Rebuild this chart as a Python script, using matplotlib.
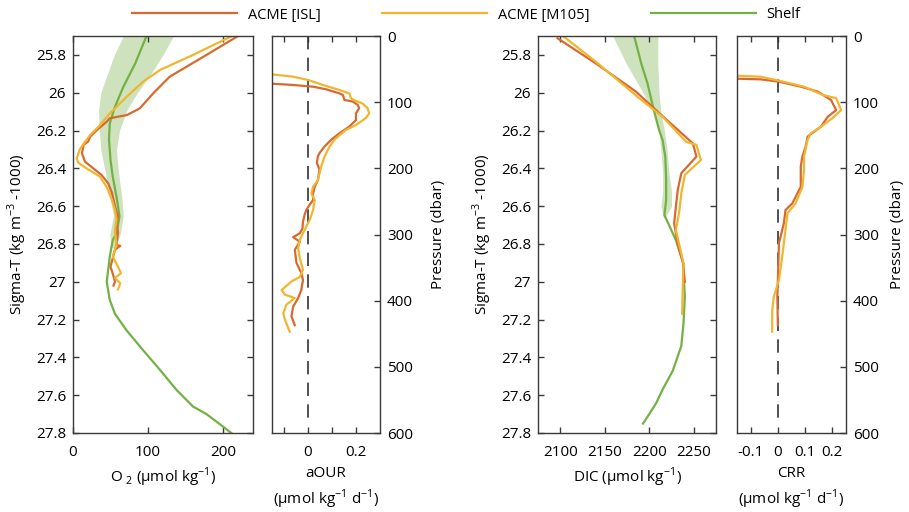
import matplotlib
matplotlib.use("Agg")
import matplotlib.pyplot as plt
import numpy as np

plt.rcParams['font.family'] = ['Open Sans', 'DejaVu Sans']
plt.rcParams['font.size'] = 11
plt.rcParams['mathtext.fontset'] = 'custom'
plt.rcParams['mathtext.rm'] = 'Open Sans'

c_isl = '#d8692f'
c_m105 = '#f1b530'
c_shelf = '#74b144'

# --- O2 vs sigma-T ---
o2_isl = [220, 178, 129, 107, 89, 72, 49, 45, 32, 23, 20, 14, 12, 16, 27, 38, 47, 52, 56, 60, 58, 60,
          58, 63, 56, 52, 50, 54, 56, 54]
sig_o2_isl = [25.70, 25.80, 25.915, 26.003, 26.083, 26.118, 26.135, 26.153, 26.197, 26.232, 26.259, 26.276,
              26.32, 26.365, 26.40, 26.435, 26.48, 26.53, 26.60, 26.655, 26.69, 26.74,
              26.805, 26.81, 26.83, 26.89, 26.92, 26.97, 26.999, 27.02]
o2_m105 = [212, 160, 116, 94, 72, 49, 34, 23, 16, 9, 5, 7, 18, 36, 45, 52, 56, 58, 56,
           56, 58, 53, 60, 64, 56, 63, 60]
sig_o2_m105 = [25.70, 25.80, 25.88, 25.94, 26.02, 26.11, 26.18, 26.223, 26.26, 26.30, 26.347, 26.37,
               26.40, 26.444, 26.50, 26.567, 26.62, 26.67, 26.726,
               26.744, 26.80, 26.867, 26.92, 26.955, 26.98, 27.008, 27.04]
o2_shelf = [98, 83, 67, 56, 49, 48, 50, 53, 58, 62, 58, 53, 49, 45, 49, 56, 71, 93, 116, 138,
            160, 178, 200, 211]
sig_o2_shelf = [25.70, 25.845, 25.97, 26.074, 26.162, 26.25, 26.356, 26.444, 26.55, 26.655, 26.744,
                26.779, 26.867, 27.0, 27.096, 27.17, 27.255, 27.36, 27.466, 27.572,
                27.66, 27.70, 27.766, 27.80]
sig_o2_band = [25.70, 25.80, 25.90, 26.00, 26.09, 26.20, 26.30, 26.40, 26.55, 26.65, 26.75, 26.82]
o2_band_lo = [67, 55, 46, 37, 34, 35, 37, 42, 49, 54, 49, 52]
o2_band_hi = [134, 120, 104, 86, 72, 62, 58, 60, 65, 67, 63, 56]

# --- aOUR vs pressure ---
aour_isl = [-0.2, -0.062, 0.021, 0.076, 0.131, 0.145, 0.152, 0.186, 0.207, 0.213, 0.2, 0.2, 0.172,
            0.131, 0.096, 0.069, 0.048, 0.041, 0.037, 0.048, 0.041, 0.028, 0.021, 0.021, 0.007,
            -0.007, -0.014, -0.021, -0.023, -0.034, -0.062, -0.034, -0.055, -0.048, -0.028,
            -0.021, -0.028, -0.041, -0.062, -0.069, -0.055]
p_aour_isl = [71, 74, 76.6, 80.6, 86.7, 89, 96.7, 99, 104, 109, 117, 127, 137,
              147, 157, 167, 177, 182, 192, 202, 218, 228, 238, 248, 255,
              263, 270, 281, 291, 298, 304, 311, 323, 343, 358,
              369, 384, 396, 409, 424, 437]
aour_m105 = [-0.2, -0.062, 0.0, 0.062, 0.131, 0.172, 0.179, 0.193, 0.227, 0.248, 0.255, 0.241, 0.2,
             0.158, 0.131, 0.110, 0.090, 0.069, 0.055, 0.048, 0.041, 0.021, 0.014, 0.028, 0.021,
             0.007, -0.014, -0.034, -0.041, -0.034, -0.021, -0.034, -0.069, -0.110, -0.096,
             -0.055, -0.090, -0.103, -0.096, -0.076]
p_aour_m105 = [56, 61.5, 66.5, 74, 81.6, 86.7, 94, 97, 102, 109, 117, 124, 134.5,
               142, 150, 157, 167, 182, 197, 207.5, 218, 228, 238, 248, 263,
               278, 293, 308, 321, 336, 353, 364, 371, 384, 391,
               396, 406, 419, 429, 447]

# --- DIC vs sigma-T ---
dic_isl = [2097, 2140, 2185, 2211.5, 2249, 2253, 2236, 2232, 2230, 2228, 2232, 2238, 2240]
sig_dic_isl = [25.712, 25.845, 25.994, 26.109, 26.268, 26.338, 26.426, 26.515, 26.60, 26.69,
               26.80, 26.90, 27.0]
dic_m105 = [2103, 2140, 2189, 2215, 2241.5, 2253, 2258, 2240, 2236, 2234, 2230, 2234, 2238.5, 2238, 2237]
sig_dic_m105 = [25.70, 25.836, 26.03, 26.127, 26.26, 26.276, 26.356, 26.435, 26.532, 26.62,
                26.726, 26.81, 26.902, 26.95, 27.17]
dic_shelf = [2183, 2191, 2198, 2204, 2211, 2215, 2218, 2219, 2219, 2217, 2230, 2238, 2240,
             2238.5, 2236, 2226.5, 2215, 2208, 2200, 2193]
sig_dic_shelf = [25.70, 25.845, 25.95, 26.07, 26.197, 26.25, 26.338, 26.46, 26.567, 26.647, 26.78,
                 26.90, 27.08, 27.22, 27.34, 27.47, 27.57, 27.64, 27.70, 27.75]
sig_dic_band = [25.70, 25.845, 26.00, 26.10, 26.20, 26.30, 26.42, 26.52, 26.60, 26.66]
dic_band_lo = [2159, 2174, 2193, 2204, 2211, 2213, 2215, 2215, 2213, 2216]
dic_band_hi = [2209.6, 2209.6, 2211, 2213, 2217, 2220, 2222, 2225, 2225, 2218]

# --- CRR vs pressure ---
crr_isl = [-0.2, -0.064, 0.004, 0.084, 0.146, 0.195, 0.214, 0.183, 0.158, 0.109, 0.102, 0.09,
           0.084, 0.084, 0.084, 0.053, 0.028, 0.022, 0.01, 0.004, 0.0, -0.002, 0.0]
p_crr_isl = [64, 65.5, 69, 76.6, 84, 96.7, 112, 122, 137, 152, 167, 182,
             197.5, 212.6, 228, 253, 263, 283, 303, 313, 369, 394, 437]
crr_m105 = [-0.2, -0.064, 0.004, 0.096, 0.164, 0.214, 0.232, 0.201, 0.158, 0.121, 0.109, 0.096,
            0.096, 0.09, 0.065, 0.035, 0.028, 0.016, 0.004, -0.015, -0.021, -0.021]
p_crr_m105 = [59, 61.5, 67.5, 76.6, 89, 94, 112, 124, 137, 147, 157, 182,
              202.5, 228, 253, 268, 293, 333, 369, 394, 416, 447]

W, H = 909, 512
fig = plt.figure(figsize=(W / 100, H / 100), dpi=100)


def box(x0, x1, y0=36, y1=433):
    return [x0 / W, 1 - y1 / H, (x1 - x0) / W, (y1 - y0) / H]


def style(ax):
    for s in ax.spines.values():
        s.set_color('#3a3a3a')
        s.set_linewidth(1.0)
    ax.tick_params(direction='in', length=4, width=1, color='#3a3a3a', top=True, right=True,
                   labelsize=11, pad=5)
    ax.tick_params(axis='x', pad=9)


lw = 1.6
sig_ticks = np.arange(25.8, 27.81, 0.2)
sig_labels = ['%g' % round(t, 1) for t in sig_ticks]

# panel 1: O2
ax1 = fig.add_axes(box(73, 253))
ax1.fill_betweenx(sig_o2_band, o2_band_lo, o2_band_hi, color=c_shelf, alpha=0.35, lw=0)
ax1.plot(o2_shelf, sig_o2_shelf, color=c_shelf, lw=lw)
ax1.plot(o2_isl, sig_o2_isl, color=c_isl, lw=lw)
ax1.plot(o2_m105, sig_o2_m105, color=c_m105, lw=lw)
ax1.set_xlim(0, 240)
ax1.set_ylim(27.8, 25.7)
ax1.set_xticks([0, 100, 200])
ax1.set_yticks(sig_ticks)
ax1.set_yticklabels(sig_labels)
ax1.set_xlabel('O$_{\\ 2}$ (µmol kg$^{-1}$)', labelpad=4)
ax1.set_ylabel('Sigma-T (kg m$^{-3}$ -1000)', labelpad=5)
style(ax1)

# panel 2: aOUR
ax2 = fig.add_axes(box(272, 380))
ax2.plot([0, 0], [0, 590], color='#333333', lw=1.2, dashes=(8, 5))
ax2.plot(aour_isl, p_aour_isl, color=c_isl, lw=lw)
ax2.plot(aour_m105, p_aour_m105, color=c_m105, lw=lw)
ax2.set_xlim(-0.15, 0.3)
ax2.set_ylim(600, 0)
ax2.set_xticks([-0.1, 0, 0.1, 0.2])
ax2.set_xticklabels(['', '0', '', '0.2'])
ax2.set_yticks(np.arange(0, 601, 100))
ax2.yaxis.tick_right()
ax2.yaxis.set_label_position('right')
ax2.set_ylabel('Pressure (dbar)', labelpad=13)
ax2.set_xlabel('aOUR\n(µmol kg$^{-1}$ d$^{-1}$)', labelpad=4, linespacing=1.4)
style(ax2)
ax2.tick_params(labelleft=False, labelright=True)

# panel 3: DIC
ax3 = fig.add_axes(box(538, 716))
ax3.fill_betweenx(sig_dic_band, dic_band_lo, dic_band_hi, color=c_shelf, alpha=0.35, lw=0)
ax3.plot(dic_shelf, sig_dic_shelf, color=c_shelf, lw=lw)
ax3.plot(dic_isl, sig_dic_isl, color=c_isl, lw=lw)
ax3.plot(dic_m105, sig_dic_m105, color=c_m105, lw=lw)
ax3.set_xlim(2075, 2275)
ax3.set_ylim(27.8, 25.7)
ax3.set_xticks([2100, 2150, 2200, 2250])
ax3.set_yticks(sig_ticks)
ax3.set_yticklabels(sig_labels)
ax3.set_xlabel('DIC (µmol kg$^{-1}$)', labelpad=4)
ax3.set_ylabel('Sigma-T (kg m$^{-3}$ -1000)', labelpad=5)
style(ax3)

# panel 4: CRR
ax4 = fig.add_axes(box(737, 846))
ax4.plot([0, 0], [0, 590], color='#333333', lw=1.2, dashes=(8, 5))
ax4.plot(crr_isl, p_crr_isl, color=c_isl, lw=lw)
ax4.plot(crr_m105, p_crr_m105, color=c_m105, lw=lw)
ax4.set_xlim(-0.15, 0.25)
ax4.set_ylim(600, 0)
ax4.set_xticks([-0.1, 0, 0.1, 0.2])
ax4.set_xticklabels(['-0.1', '0', '0.1', '0.2'])
ax4.set_yticks(np.arange(0, 601, 100))
ax4.yaxis.tick_right()
ax4.yaxis.set_label_position('right')
ax4.set_ylabel('Pressure (dbar)', labelpad=8)
ax4.set_xlabel('CRR\n(µmol kg$^{-1}$ d$^{-1}$)', labelpad=4, linespacing=1.4)
style(ax4)
ax4.tick_params(labelleft=False, labelright=True)

h = [plt.Line2D([], [], color=c, lw=lw) for c in (c_isl, c_m105, c_shelf)]
fig.legend(h, ['ACME [ISL]', 'ACME [M105]', 'Shelf'], loc='center', bbox_to_anchor=(0.513, 1 - 15 / H),
           ncol=3, frameon=False, handlelength=7.2, handletextpad=0.7, columnspacing=4.25, fontsize=10.5)

fig.savefig('out.png', dpi=100)
